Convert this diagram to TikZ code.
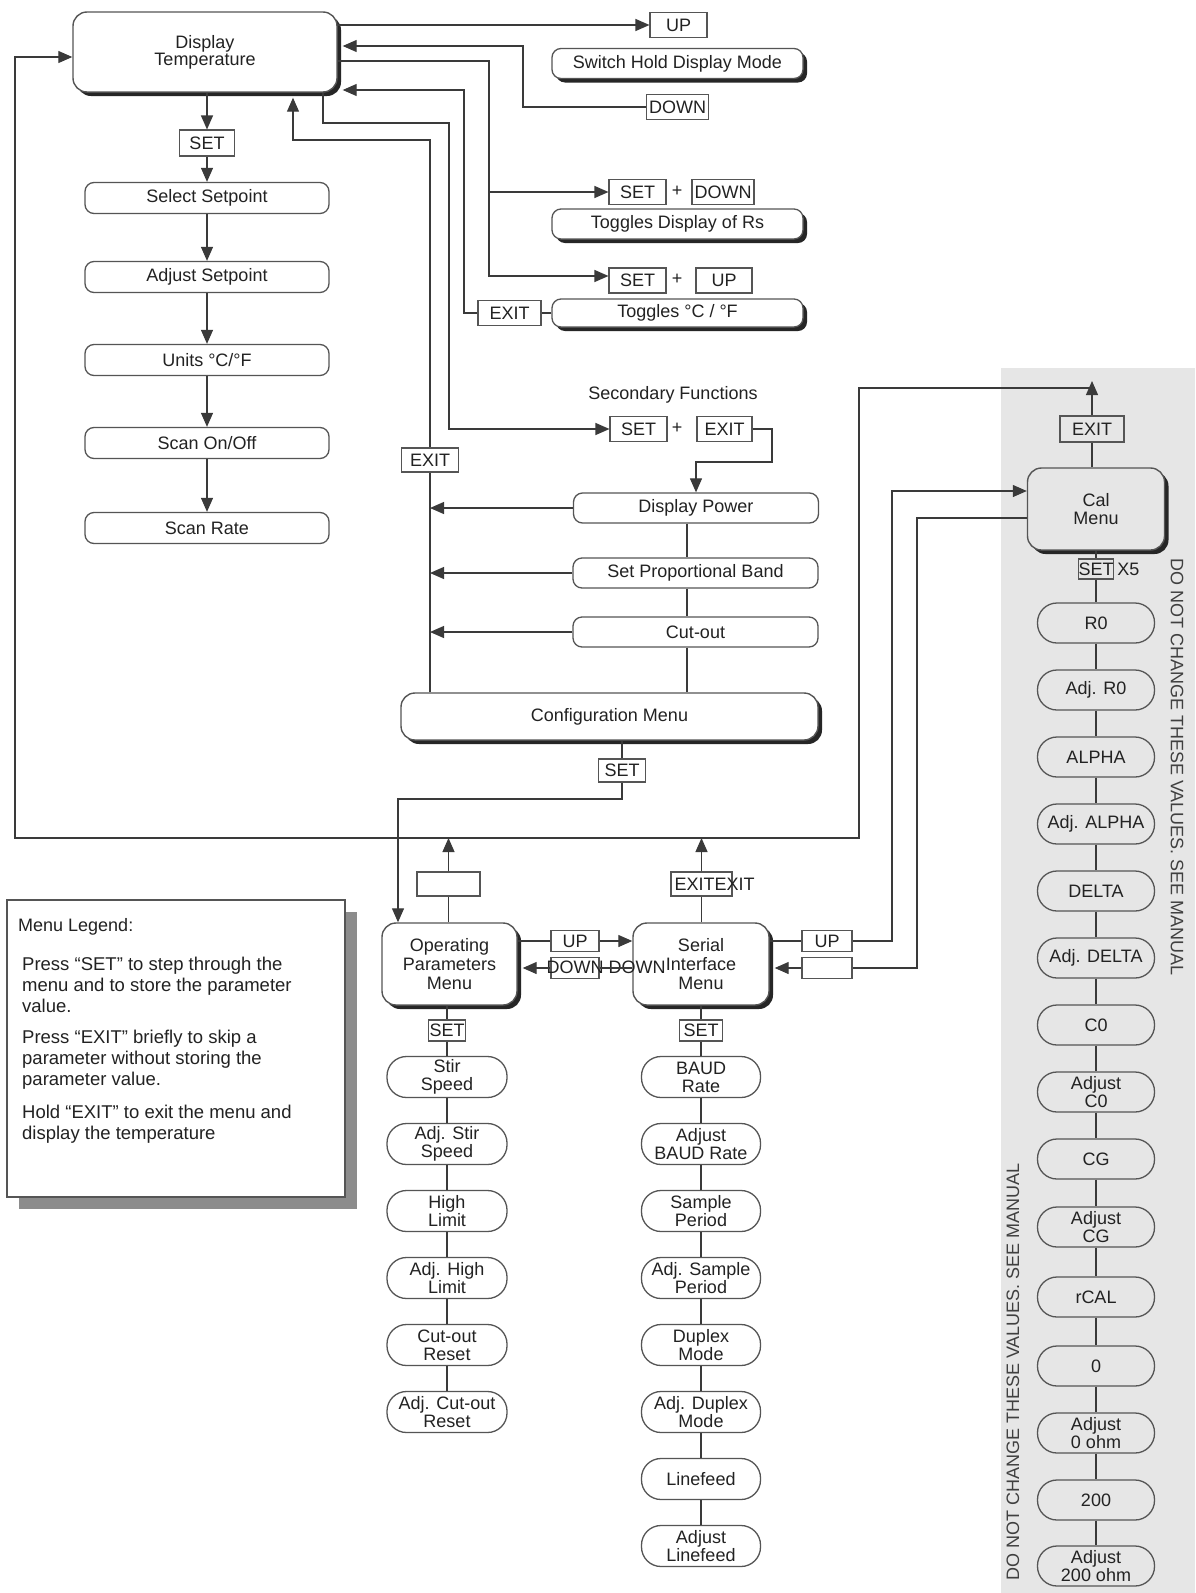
\documentclass[tikz,border=0pt]{standalone}
\usepackage{fontspec}
\setmainfont{Liberation Sans}
\usetikzlibrary{arrows.meta,shadows}
\definecolor{wirec}{HTML}{3A3A3A}
\definecolor{bd}{HTML}{555555}
\definecolor{tx}{HTML}{222222}
\definecolor{strip}{HTML}{E6E6E6}
\tikzset{
  txt/.style={font=\fontsize{18}{18}\selectfont, text=tx, inner sep=0pt},
  shd/.style={drop shadow={shadow xshift=4pt, shadow yshift=-4pt, opacity=1, fill=black!85}},
  bigbox/.style={txt, draw=bd, line width=1.4pt, fill=white, rounded corners=14pt, align=center, shd},
  flatbox/.style={txt, draw=bd, line width=1.3pt, fill=white, rounded corners=9pt, minimum height=30pt},
  shbox/.style={flatbox, shd},
  capsule/.style={txt, draw=bd, line width=1.3pt, fill=white, rounded corners=19.5pt, minimum width=119pt, minimum height=40pt, align=center},
  keybox/.style={txt, draw=bd, line width=1.1pt, fill=white, minimum height=25pt},
  wire/.style={draw=wirec, line width=1.2pt},
  arr/.style={wire, -{Triangle[length=14pt,width=12pt]}},
}
\begin{document}
\begin{tikzpicture}[x=1pt,y=-1pt]
\useasboundingbox (0,0) rectangle (1195,1593);
\fill[white] (0,0) rectangle (1195,1593);
\fill[strip] (1001,368) rectangle (1195,1593);

% ---------- legend ----------
\node[draw=bd, line width=1.2pt, fill=white, minimum width=338pt, minimum height=297pt, inner sep=0pt,
      drop shadow={shadow xshift=12pt, shadow yshift=-12pt, opacity=1, fill=black!45}] (legend) at (176,1048.5) {};
\node[txt, anchor=north west] (legtitle) at (18,918) {Menu Legend:};
\node[txt, anchor=north west, align=left, font=\fontsize{18.5}{21}\selectfont] (legbody) at (22,957)
 {Press “SET” to step through the\\menu and to store the parameter\\value.\\[10pt]Press “EXIT” briefly to skip a\\parameter without storing the\\parameter value.\\[12pt]Hold “EXIT” to exit the menu and\\display the temperature};

% ---------- left column ----------
\node[bigbox, minimum width=264pt, minimum height=80pt, font=\fontsize{18}{17}\selectfont] (disp) at (205,52) {Display\\Temperature};
\node[keybox, minimum width=55pt, minimum height=26pt] (setA) at (207,143) {SET};
\node[flatbox, minimum width=244pt, minimum height=31pt] (sel) at (207,198) {Select Setpoint};
\node[flatbox, minimum width=244pt, minimum height=31pt] (adj) at (207,277) {Adjust Setpoint};
\node[flatbox, minimum width=244pt, minimum height=31pt] (units) at (207,360) {Units °C/°F};
\node[flatbox, minimum width=244pt, minimum height=31pt] (scan) at (207,443) {Scan On/Off};
\node[flatbox, minimum width=244pt, minimum height=31pt] (rate) at (207,528) {Scan Rate};

% ---------- top right ----------
\node[keybox, minimum width=57pt] (up1) at (678.5,25) {UP};
\node[shbox, minimum width=251pt] (hold) at (677.5,63.5) {Switch Hold Display Mode};
\node[keybox, minimum width=62pt] (down1) at (677.5,107) {DOWN};
\node[keybox, minimum width=57pt] (setrs) at (637.5,192) {SET};
\node[txt] (plus1) at (677,191) {+};
\node[keybox, minimum width=62pt] (downrs) at (723,192) {DOWN};
\node[shbox, minimum width=251pt] (rs) at (677.5,224) {Toggles Display of Rs};
\node[keybox, minimum width=57pt] (setcf) at (637.5,280.5) {SET};
\node[txt] (plus2) at (677,279) {+};
\node[keybox, minimum width=56pt] (upcf) at (724,280.5) {UP};
\node[shbox, minimum width=251pt, minimum height=28pt] (cf) at (677.5,313) {Toggles °C / °F};
\node[keybox, minimum width=63pt] (exitcf) at (509.5,313) {EXIT};

% ---------- secondary functions ----------
\node[txt] (secf) at (673,395) {Secondary Functions};
\node[keybox, minimum width=57pt] (setsf) at (638.5,429) {SET};
\node[txt] (plus3) at (677,428) {+};
\node[keybox, minimum width=55pt] (exitsf) at (724.5,429) {EXIT};
\node[flatbox, minimum width=245pt] (dpow) at (696,508) {Display Power};
\node[flatbox, minimum width=245pt] (spb) at (695.5,573) {Set Proportional Band};
\node[flatbox, minimum width=245pt] (cut) at (695.5,632) {Cut-out};
\node[bigbox, minimum width=417pt, minimum height=47pt] (conf) at (609.5,716.5) {Configuration Menu};
\node[keybox, minimum width=57pt, minimum height=24pt] (exitc) at (430,460) {EXIT};
\node[keybox, minimum width=47pt, minimum height=23pt] (setconf) at (622,770.5) {SET};

% ---------- menus ----------
\node[bigbox, minimum width=135pt, minimum height=82pt, font=\fontsize{18}{19}\selectfont] (opm) at (449.5,964) {Operating\\Parameters\\Menu};
\node[bigbox, minimum width=136pt, minimum height=82pt, font=\fontsize{18}{19}\selectfont] (sim) at (701,964) {Serial\\Interface\\Menu};
\node[keybox, minimum width=63pt, minimum height=24pt] (emptyo) at (448.5,884) {};
\node[keybox, minimum width=61pt, minimum height=24pt, label={[txt, anchor=west, xshift=4pt]west:EXITEXIT}] (exits) at (701.5,884) {};
\node[keybox, minimum width=48pt, minimum height=21pt] (upm) at (575,941) {UP};
\node[keybox, minimum width=48pt, minimum height=21pt, fill=none, label={[txt, anchor=west, xshift=-4pt, yshift=1pt]west:DOWN DOWN}] (downm) at (575,968) {};
\node[keybox, minimum width=50pt, minimum height=21pt] (upr) at (827,941) {UP};
\node[keybox, minimum width=50pt, minimum height=21pt] (emptyr) at (827,968) {};

% ---------- cal menu ----------
\node[bigbox, fill=strip, minimum width=137pt, minimum height=82pt] (cal) at (1096,509) {Cal\\Menu};
\node[keybox, fill=strip, minimum width=64pt, minimum height=26pt] (exitcal) at (1092,429) {EXIT};
\node[keybox, fill=strip, minimum width=35pt, minimum height=20pt, label={[txt, label distance=3pt]east:X5}] (setcal) at (1096,569) {SET};
\foreach \n/\y/\lab in {k1/623/R0, k2/690/Adj. R0, k3/757/ALPHA, k4/824/Adj. ALPHA, k5/891/DELTA, k6/958/Adj. DELTA, k7/1025/C0, k8/1092/{Adjust\\C0}, k9/1159/CG, k10/1227/{Adjust\\CG}, k11/1297/rCAL, k12/1366/0, k13/1433/{Adjust\\0 ohm}, k14/1500/200, k15/1566/{Adjust\\200 ohm}}
  \node[capsule, fill=strip, minimum width=117pt] (\n) at (1096,\y) {\lab};
\node[txt, rotate=-90, text=black!75] (warn1) at (1177,767) {DO NOT CHANGE THESE VALUES. SEE MANUAL};
\node[txt, rotate=90, text=black!75] (warn2) at (1013,1372) {DO NOT CHANGE THESE VALUES. SEE MANUAL};

% ---------- OPM column ----------
\node[keybox, minimum width=37pt, minimum height=21pt] (seto) at (447,1030.5) {SET};
\foreach \n/\y/\lab in {o1/1077/{Stir\\Speed}, o2/1144/{Adj. Stir\\Speed}, o3/1211/{High\\Limit}, o4/1278/{Adj. High\\Limit}, o5/1345/{Cut-out\\Reset}, o6/1412/{Adj. Cut-out\\Reset}}
  \node[capsule, minimum width=120pt, minimum height=41pt] (\n) at (447,\y) {\lab};

% ---------- SIM column ----------
\node[keybox, minimum width=43pt, minimum height=21pt] (sets) at (701,1030.5) {SET};
\foreach \n/\y/\lab in {s1/1077/{BAUD\\Rate}, s2/1144/{Adjust\\BAUD Rate}, s3/1211/{Sample\\Period}, s4/1278/{Adj. Sample\\Period}, s5/1345/{Duplex\\Mode}, s6/1412/{Adj. Duplex\\Mode}, s7/1479/Linefeed, s8/1546/{Adjust\\Linefeed}}
  \node[capsule, minimum width=119pt, minimum height=41pt] (\n) at (701,\y) {\lab};

% ---------- connectors: left column ----------
\draw[arr] (setA.north |- disp.south) -- (setA.north);
\draw[arr] (setA.south) -- (sel.north);
\draw[arr] (sel.south) -- (adj.north);
\draw[arr] (adj.south) -- (units.north);
\draw[arr] (units.south) -- (scan.north);
\draw[arr] (scan.south) -- (rate.north);

% ---------- connectors: top right ----------
\draw[arr] (disp.east |- up1.west) -- (up1.west);
\draw[arr, shorten >=5pt] (down1.west) -- (523,107) -- (523,46) -- (disp.east |- 0,46);
\draw[arr] (disp.east |- 0,61) -- (489,61) -- (489,276) -- (setcf.west |- 0,276);
\draw[arr] (489,192) -- (setrs.west);
\draw[wire] (cf.west) -- (exitcf.east);
\draw[arr, shorten >=5pt] (exitcf.west) -- (464,313) -- (464,90) -- (disp.east |- 0,90);

% ---------- connectors: secondary ----------
\draw[arr] (disp.south -| 323,0) -- (323,123) -- (449,123) -- (449,429) -- (setsf.west);
\draw[arr] (exitsf.east) -- (772,429) -- (772,462) -- (dpow.north |- 0,462) -- (dpow.north);
\draw[arr] (dpow.west) -- (dpow.west -| exitc);
\draw[arr] (spb.west) -- (spb.west -| exitc);
\draw[arr] (cut.west) -- (cut.west -| exitc);
\draw[wire] (conf.north -| exitc) -- (exitc.south);
\draw[arr, shorten >=5pt] (exitc.north) -- (430,140) -- (293,140) -- (disp.south -| 293,0);
\draw[wire] (dpow.south -| 687,0) -- (spb.north -| 687,0);
\draw[wire] (spb.south -| 687,0) -- (cut.north -| 687,0);
\draw[wire] (cut.south -| 687,0) -- (conf.north -| 687,0);
\draw[wire] (conf.south -| setconf) -- (setconf.north);
\draw[arr] (setconf.south) -- (622,799) -- (398,799) -- (opm.north -| 398,0);

% ---------- big loop ----------
\draw[wire] (cal.north -| exitcal) -- (exitcal.south);
\draw[arr] (exitcal.north) -- (exitcal.north |- 0,381);
\draw[arr] (exitcal.north |- 0,388) -- (859,388) -- (859,838) -- (15,838) -- (15,57) -- (disp.west |- 0,57);

% ---------- menus ----------
\draw[wire] (opm.north -| emptyo) -- (emptyo.south);
\draw[arr] (emptyo.north) -- (emptyo.north |- 0,838);
\draw[wire] (sim.north -| exits) -- (exits.south);
\draw[arr] (exits.north) -- (exits.north |- 0,838);
\draw[wire] (opm.east |- upm) -- (upm.west);
\draw[arr] (upm.east) -- (sim.west |- upm);
\draw[wire] (sim.west |- downm) -- (downm.east);
\draw[arr, shorten >=5pt] (downm.west) -- (opm.east |- downm);
\draw[wire] (sim.east |- upr) -- (upr.west);
\draw[arr] (upr.east) -- (892,941) -- (892,491) -- (cal.west |- 0,491);
\draw[wire] (cal.west |- 0,518) -- (917,518) -- (917,968) -- (emptyr.east);
\draw[arr, shorten >=5pt] (emptyr.west) -- (sim.east |- emptyr);

% ---------- columns ----------
\draw[wire] (cal.south) -- (setcal.north);
\draw[wire] (setcal.south) -- (k1.north);
\foreach \a/\b in {k1/k2,k2/k3,k3/k4,k4/k5,k5/k6,k6/k7,k7/k8,k8/k9,k9/k10,k10/k11,k11/k12,k12/k13,k13/k14,k14/k15}
  \draw[wire] (\a.south) -- (\b.north);
\draw[wire] (opm.south -| seto) -- (seto.north);
\draw[wire] (seto.south) -- (o1.north);
\foreach \a/\b in {o1/o2,o2/o3,o3/o4,o4/o5,o5/o6}
  \draw[wire] (\a.south) -- (\b.north);
\draw[wire] (sim.south -| sets) -- (sets.north);
\draw[wire] (sets.south) -- (s1.north);
\foreach \a/\b in {s1/s2,s2/s3,s3/s4,s4/s5,s5/s6,s6/s7,s7/s8}
  \draw[wire] (\a.south) -- (\b.north);
\end{tikzpicture}
\end{document}
